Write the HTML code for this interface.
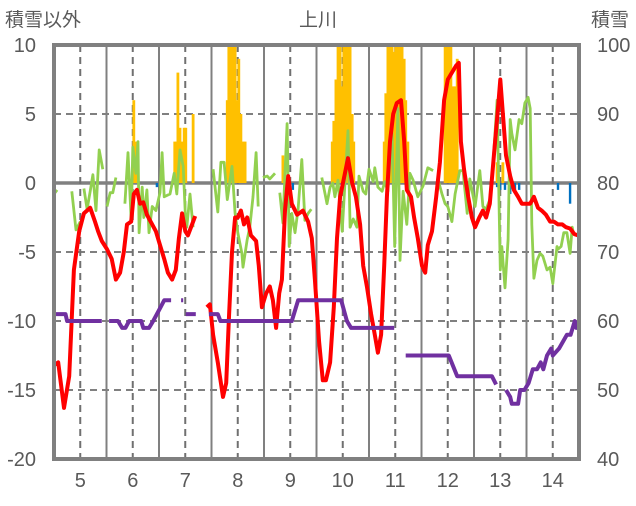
<!DOCTYPE html>
<html><head><meta charset="utf-8">
<style>
html,body{margin:0;padding:0;background:#fff;}
svg text{font-family:"Liberation Sans","Noto Sans CJK JP",sans-serif;fill:#595959;}
</style></head>
<body>
<svg id="chart" width="636" height="501" viewBox="0 0 636 501" xmlns="http://www.w3.org/2000/svg">
<text x="318" y="26" font-size="19" text-anchor="middle">上川</text>
<text x="5" y="26" font-size="19">積雪以外</text>
<text x="591" y="26" font-size="19">積雪</text>
<g id="grid"></g>
<g id="bars"></g>
<g id="lines"></g>
<g id="axes"></g>
</svg>
<script>
const xTicks=[5,6,7,8,9,10,11,12,13,14];
const leftTicks=[10,5,0,-5,-10,-15,-20];
const rightTicks=[100,90,80,70,60,50,40];
const redT=[4.5,4.58,4.69,4.79,4.88,4.98,5.07,5.19,5.28,5.34,5.41,5.51,5.6,5.68,5.76,5.83,5.89,5.97,6.02,6.08,6.14,6.2,6.27,6.37,6.44,6.52,6.6,6.67,6.75,6.82,6.88,6.94,7.0,7.05,7.13,7.19,7.3,7.41,7.47,7.53,7.62,7.72,7.78,7.83,7.89,7.95,8.0,8.06,8.12,8.18,8.25,8.35,8.4,8.46,8.54,8.61,8.67,8.73,8.79,8.84,8.9,8.96,9.03,9.13,9.24,9.34,9.41,9.47,9.55,9.62,9.68,9.76,9.83,9.89,9.95,10.02,10.1,10.18,10.25,10.33,10.39,10.46,10.54,10.61,10.67,10.73,10.79,10.84,10.9,10.96,11.03,11.11,11.17,11.22,11.3,11.36,11.43,11.51,11.57,11.62,11.7,11.78,11.85,11.93,12.0,12.08,12.16,12.21,12.25,12.31,12.39,12.46,12.52,12.6,12.67,12.73,12.8,12.88,12.96,13.0,13.05,13.11,13.19,13.26,13.34,13.41,13.49,13.57,13.64,13.72,13.79,13.87,13.95,14.02,14.1,14.18,14.25,14.33,14.41,14.48];
const redV=[-13.2,-13,-16.3,-14,-6.3,-3.5,-2.2,-1.8,-2.8,-3.5,-4.2,-4.8,-5.5,-7,-6.5,-5,-3,-2.8,-0.8,-0.5,-1.5,-1.4,-2.3,-3,-3.5,-4.5,-5.5,-6.5,-7,-6.3,-4,-2.2,-3.5,-3.8,-3,-2.4,null,-9,-8.8,-11,-13,-15.5,-14.5,-10,-5,-2.5,-2.5,-2,-3,-2.5,-3.8,-4.2,-6,-9,-8,-7.5,-8.5,-10.5,-8,-7,-2,0.5,-1.5,-2.3,-2,-2.8,-4,-7,-11.5,-14.3,-14.3,-13,-9,-4,-1,0.3,1.8,0,-1,-3,-6,-7.5,-9.5,-11,-12.3,-11,-6,-1,3,5,5.8,6,3,-0.5,-1,-2.5,-4,-6,-6.5,-4.5,-3.5,-1,1.5,6,7.5,8,8.5,8.7,3,1,-1,-2.5,-3.2,-2.5,-2,-2.5,-1.5,2,5.5,7.5,5,2,0.5,-0.5,-1,-1.5,-1.5,-1.5,-1,-1.8,-2,-2.3,-2.8,-2.8,-3,-3,-3.2,-3.3,-3.7,-3.8];
const greenT=[4.48,4.56,4.7,4.84,4.92,5.0,5.03,5.07,5.13,5.19,5.24,5.3,5.36,5.43,5.47,5.51,5.57,5.62,5.68,5.76,5.85,5.91,5.97,6.0,6.06,6.1,6.12,6.18,6.21,6.27,6.31,6.37,6.44,6.52,6.56,6.6,6.71,6.79,6.84,6.9,6.96,7.0,7.03,7.09,7.15,7.3,7.53,7.62,7.68,7.74,7.8,7.89,7.95,8.0,8.08,8.1,8.18,8.23,8.29,8.35,8.39,8.44,8.48,8.56,8.61,8.71,8.76,8.8,8.86,8.94,8.98,9.03,9.09,9.15,9.22,9.28,9.34,9.4,9.5,9.6,9.7,9.76,9.81,9.85,9.91,9.99,10.04,10.1,10.14,10.2,10.27,10.31,10.39,10.44,10.5,10.58,10.61,10.67,10.75,10.8,10.86,10.94,10.99,11.05,11.09,11.15,11.22,11.28,11.34,11.43,11.53,11.62,11.72,11.77,11.81,11.89,11.95,12.0,12.08,12.14,12.23,12.29,12.37,12.42,12.52,12.61,12.67,12.73,12.8,12.86,12.94,13.0,13.03,13.09,13.15,13.19,13.22,13.28,13.36,13.41,13.47,13.53,13.57,13.6,13.64,13.7,13.76,13.81,13.89,13.95,14.0,14.08,14.1,14.16,14.21,14.27,14.33,14.37,14.4,14.48];
const greenV=[-0.9,-0.5,null,-0.6,-3.4,-2.8,null,-0.4,-1.9,-0.6,0.6,-2,2.4,1,null,-1.7,-0.7,-0.7,0.4,null,-1.5,2.2,-2.7,2.6,0.7,3,-3.6,-0.3,-2.5,-0.5,-3.6,-1.7,-2,-0.7,2.2,-1,-0.8,0.7,-0.8,2.4,1.2,-2.2,-3.2,-0.8,-3.2,null,1,-2.1,1.5,1.5,-1.2,1.2,-2.2,-3.6,-5.1,-6.1,-4.1,-3.2,-1,2.2,-1.7,null,0.4,0.5,0.3,0.7,null,-0.7,-2.9,4.3,-4.6,-2.2,-3.6,-1.9,1.7,-2.7,-2.2,-1.9,null,0.4,-1.5,-0.3,0,-1,0.2,-3.5,-0.2,3.8,-3.2,-2.6,-3.2,0.5,-0.6,-0.8,1,0.1,1.1,-0.3,-0.6,0.1,-0.6,3.6,-4.6,5.4,-5.6,-0.6,-3,0.7,0.2,-1,-0.2,1.1,0.9,null,0.3,-0.8,-1.5,-1.7,-2.8,-0.8,0.9,0.9,-2.2,0.3,-1.7,0.9,-1.7,-1.9,-1.2,1.2,6,-6.3,-4.6,-7.6,-4.1,4.6,3.6,2.4,4.6,4.3,5.8,6.2,5.4,-3,-6.9,-5.6,-5.1,-5.3,-6.3,-6.1,-7.3,-4.6,-4.8,-4.6,-3.6,-3.6,-5.1,-3.2,-3.8];
const depthT=[4.5,4.72,4.75,5.41,5.48,5.55,5.72,5.8,5.86,5.93,6.16,6.2,6.31,6.39,6.46,6.53,6.6,6.73,6.8,6.92,6.96,6.98,7.01,7.2,7.3,7.45,7.62,7.67,9.03,9.15,9.97,10.08,10.16,10.98,11.1,11.2,12.02,12.1,12.18,12.84,12.92,13.0,13.11,13.19,13.22,13.34,13.38,13.46,13.54,13.62,13.7,13.77,13.82,13.89,13.97,14.0,14.12,14.27,14.34,14.42,14.45,14.5];
const depthV=[61,61,60,60,null,60,60,59,59,60,60,59,59,60,61,62,63,63,null,63,63,null,61,61,null,61,61,60,60,63,63,60,59,59,null,55,55,53.5,52,52,50.8,null,50,49,48,48,50,50,51,53,53,54,53,55,56,55,56,58,58,60,59,59];
const snowT=[6.02,6.06,6.8,6.84,6.86,6.9,6.94,6.98,7.01,7.15,7.8,7.83,7.87,7.91,7.95,7.99,8.02,8.06,8.1,8.14,8.86,9.8,9.83,9.87,9.91,9.95,9.99,10.02,10.06,10.1,10.14,10.18,10.21,10.79,10.82,10.86,10.9,10.94,10.98,11.01,11.05,11.09,11.13,11.17,11.2,11.24,11.95,11.99,12.02,12.06,12.1,12.14,12.18,12.94,13.05];
const snowV=[6,3,3,3,8,4,3,4,4,5,6,10,10,10,10,6,9,5,3,3,2,3,4.5,7.5,10,10,7,10,10,10,10,5,3,3,6.5,10,10,10,9.5,10,10,10,10,9,6,3,10,10,10,10,7,7,9,1.5,1.5];
const meltT=[6.46,9.05,12.94,13.0,13.09,13.19,13.28,13.36,14.1,14.33];
const meltV=[-0.3,-0.5,-0.3,-0.5,-0.5,-0.8,-0.5,-0.5,-0.5,-1.5];

const X0=54,X1=579,Y0=45,Y1=459;
const xS=d=>X0+(d-4.5)*(X1-X0)/10;
const yL=v=>Y0+(10-v)*(Y1-Y0)/30;
const yR=v=>Y0+(100-v)*(Y1-Y0)/60;
const NS='http://www.w3.org/2000/svg';
function mk(tag,parent){const e=document.createElementNS(NS,tag);parent.appendChild(e);return e;}
const grid=document.getElementById('grid'),bars=document.getElementById('bars'),lines=document.getElementById('lines'),axes=document.getElementById('axes');

leftTicks.forEach(v=>{
  if(v===10||v===-20)return;
  const l=mk('line',grid);
  
  
  l.setAttribute('x1',X0);l.setAttribute('x2',X1);l.setAttribute('y1',yL(v));l.setAttribute('y2',yL(v));
  l.setAttribute('stroke','#808080');
  if(v===0){l.setAttribute('stroke-width','3.5');}
  else{l.setAttribute('stroke-width','2');l.setAttribute('stroke-dasharray','7 5');}
});
for(let i=1;i<10;i++){
  const l=mk('line',grid);
  
  
  const x=xS(4.5+i);
  l.setAttribute('x1',x);l.setAttribute('x2',x);l.setAttribute('y1',Y0);l.setAttribute('y2',Y1);
  l.setAttribute('stroke','#808080');l.setAttribute('stroke-width','2');
}
xTicks.forEach(d=>{
  const l=mk('line',grid);
  
  
  const x=xS(d);
  l.setAttribute('x1',x);l.setAttribute('x2',x);l.setAttribute('y1',Y0);l.setAttribute('y2',Y1);
  l.setAttribute('stroke','#707070');l.setAttribute('stroke-width','2');l.setAttribute('stroke-dasharray','7 5');
});

const bw=2.8;
snowT.forEach((t,i)=>{
  const r=mk('rect',bars);
  
  
  const v=Math.min(10,snowV[i]);
  r.setAttribute('x',xS(t)-bw/2);r.setAttribute('width',bw);
  r.setAttribute('y',yL(v));r.setAttribute('height',yL(0)-yL(v));
  r.setAttribute('fill','#ffc000');
});
meltT.forEach((t,i)=>{
  const r=mk('rect',bars);
  
  
  r.setAttribute('x',xS(t)-1.2);r.setAttribute('width',2.4);
  r.setAttribute('y',yL(0));r.setAttribute('height',yL(meltV[i])-yL(0));
  r.setAttribute('fill','#0070c0');
});

function pathD(ts,vs,ys){
  let d='',pen=false;
  ts.forEach((t,i)=>{
    const v=vs[i];
    if(v===null||v===undefined){pen=false;return;}
    d+=(pen?'L':'M')+xS(t).toFixed(1)+','+ys(v).toFixed(1);
    pen=true;
  });
  return d;
}
const gp=mk('path',lines);


gp.setAttribute('d',pathD(greenT,greenV,yL));
gp.setAttribute('fill','none');gp.setAttribute('stroke','#92d050');gp.setAttribute('stroke-width','2.8');gp.setAttribute('stroke-linejoin','round');

const rp=mk('path',lines);


rp.setAttribute('d',pathD(redT,redV,yL));
rp.setAttribute('fill','none');rp.setAttribute('stroke','#ff0000');rp.setAttribute('stroke-width','4');rp.setAttribute('stroke-linejoin','round');

const pp=mk('path',lines);


pp.setAttribute('d',pathD(depthT,depthV,yR));
pp.setAttribute('fill','none');pp.setAttribute('stroke','#7030a0');pp.setAttribute('stroke-width','4');pp.setAttribute('stroke-linejoin','round');

const fr=mk('rect',axes);


fr.setAttribute('x',X0);fr.setAttribute('y',Y0);fr.setAttribute('width',X1-X0);fr.setAttribute('height',Y1-Y0);
fr.setAttribute('fill','none');fr.setAttribute('stroke','#808080');fr.setAttribute('stroke-width','4');

leftTicks.forEach(v=>{
  const t=mk('text',axes);
  
  
  t.setAttribute('x',36);t.setAttribute('y',yL(v)+7);t.setAttribute('font-size','20');t.setAttribute('text-anchor','end');
  t.textContent=v;
});
rightTicks.forEach(v=>{
  const t=mk('text',axes);
  
  
  t.setAttribute('x',597);t.setAttribute('y',yR(v)+7);t.setAttribute('font-size','20');
  t.textContent=v;
});
xTicks.forEach(d=>{
  const t=mk('text',axes);
  
  
  t.setAttribute('x',xS(d));t.setAttribute('y',487);t.setAttribute('font-size','20');t.setAttribute('text-anchor','middle');
  t.textContent=d;
});
</script>
</body></html>
